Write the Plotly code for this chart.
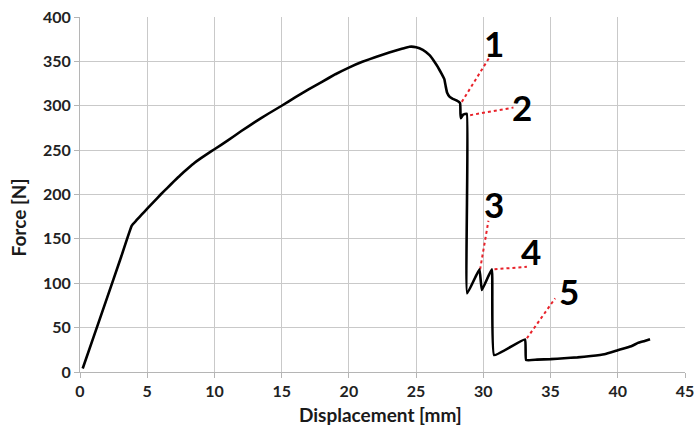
import plotly.graph_objects as go

# Force-displacement curve
disp = [0.2, 1, 2, 3, 3.85, 4.2, 4.6, 5, 5.5, 6, 6.5, 7, 7.44, 8, 8.5, 9, 9.5, 10,
        11, 12, 13, 14, 15, 16, 17, 18, 19, 20, 21, 22, 23, 24, 24.5, 25, 25.5, 26,
        26.3, 26.6, 26.9, 27.1, 27.2, 27.3, 27.5, 27.7, 28, 28.27, 28.3,
        28.33, 28.5, 28.77, 28.8, 29.71, 29.89, 30.63, 30.8, 33.1, 33.18, 34, 35, 36,
        37, 38, 39, 40, 41, 41.5, 42, 42.4]
force = [4, 39, 83, 127, 165, 171, 177.5, 184, 192, 200, 207.5, 215, 221.5, 229, 235.5, 241, 246, 251,
         261, 271.5, 281.5, 291, 300, 309.5, 318.5, 327, 335.5, 343, 349.5, 355, 360, 364.5, 366.5, 366, 363, 357,
         351, 344, 336, 330, 322, 315, 310, 308, 306, 303, 291,
         286, 290, 291, 88.6, 115.7, 92.3, 115.7, 19, 36.8, 13.5, 14, 14.5, 15.5,
         16.5, 18, 20, 24.5, 29, 32.8, 35, 37]

# Numbered markers: label text, label position, leader line start and end
mark_labels = ["1", "2", "3", "4", "5"]
label_x = [30.79, 32.91, 30.79, 33.58, 36.38]
label_y = [371, 299, 189.5, 136.3, 91.2]
lead_x0 = [28.4, 29.02, 29.76, 30.83, 33.24]
lead_y0 = [304.4, 289.4, 115.7, 115.7, 38]
lead_x1 = [30.45, 32.24, 30.38, 33.24, 35.34]
lead_y1 = [354.4, 298, 170.4, 118.6, 83]

x_ticks = [0, 5, 10, 15, 20, 25, 30, 35, 40, 45]
y_ticks = [0, 50, 100, 150, 200, 250, 300, 350, 400]

FONT = "Lato"
fig = go.Figure()

for i in range(len(mark_labels)):
    fig.add_trace(go.Scatter(
        x=[lead_x0[i], lead_x1[i]], y=[lead_y0[i], lead_y1[i]],
        mode="lines", line=dict(color="#e8222a", width=2, dash="dot"),
        hoverinfo="skip", showlegend=False))

fig.add_trace(go.Scatter(x=disp, y=force, mode="lines",
                         line=dict(color="black", width=2.6, shape="spline", smoothing=0.3),
                         showlegend=False))

for i in range(len(mark_labels)):
    fig.add_annotation(x=label_x[i], y=label_y[i], text="<b>%s</b>" % mark_labels[i],
                       showarrow=False, xref="x", yref="y",
                       font=dict(family=FONT, size=35, color="black"))

fig.add_annotation(x=0.497, y=-0.12, xref="paper", yref="paper",
                   text="<b>Displacement [mm]</b>", showarrow=False,
                   yanchor="middle", xanchor="center",
                   font=dict(family=FONT, size=19, color="#1a1a1a"))
fig.add_annotation(x=-0.101, y=0.435, xref="paper", yref="paper",
                   text="<b>Force [N]</b>", showarrow=False, textangle=-90,
                   yanchor="middle", xanchor="center",
                   font=dict(family=FONT, size=19, color="#1a1a1a"))

axis_common = dict(showgrid=True, gridcolor="#c9c9c9", gridwidth=1,
                   showline=True, linecolor="#b5b5b5", linewidth=1,
                   ticks="outside", ticklen=5, tickcolor="#b5b5b5",
                   zeroline=False, automargin=False, ticklabeloverflow="allow",
                   tickfont=dict(family=FONT, size=16, color="#222222", weight="bold"))

fig.update_xaxes(range=[0, 45], tickvals=x_ticks, **axis_common)
fig.update_yaxes(range=[0, 400], tickvals=y_ticks, **axis_common)

fig.update_layout(width=694, height=431,
                  margin=dict(l=80, r=9, t=17, b=59),
                  plot_bgcolor="white", paper_bgcolor="white",
                  showlegend=False)

fig.write_html("out.html", config={"displayModeBar": False},
               post_script="document.body.style.margin='0';document.body.style.overflow='hidden';")
